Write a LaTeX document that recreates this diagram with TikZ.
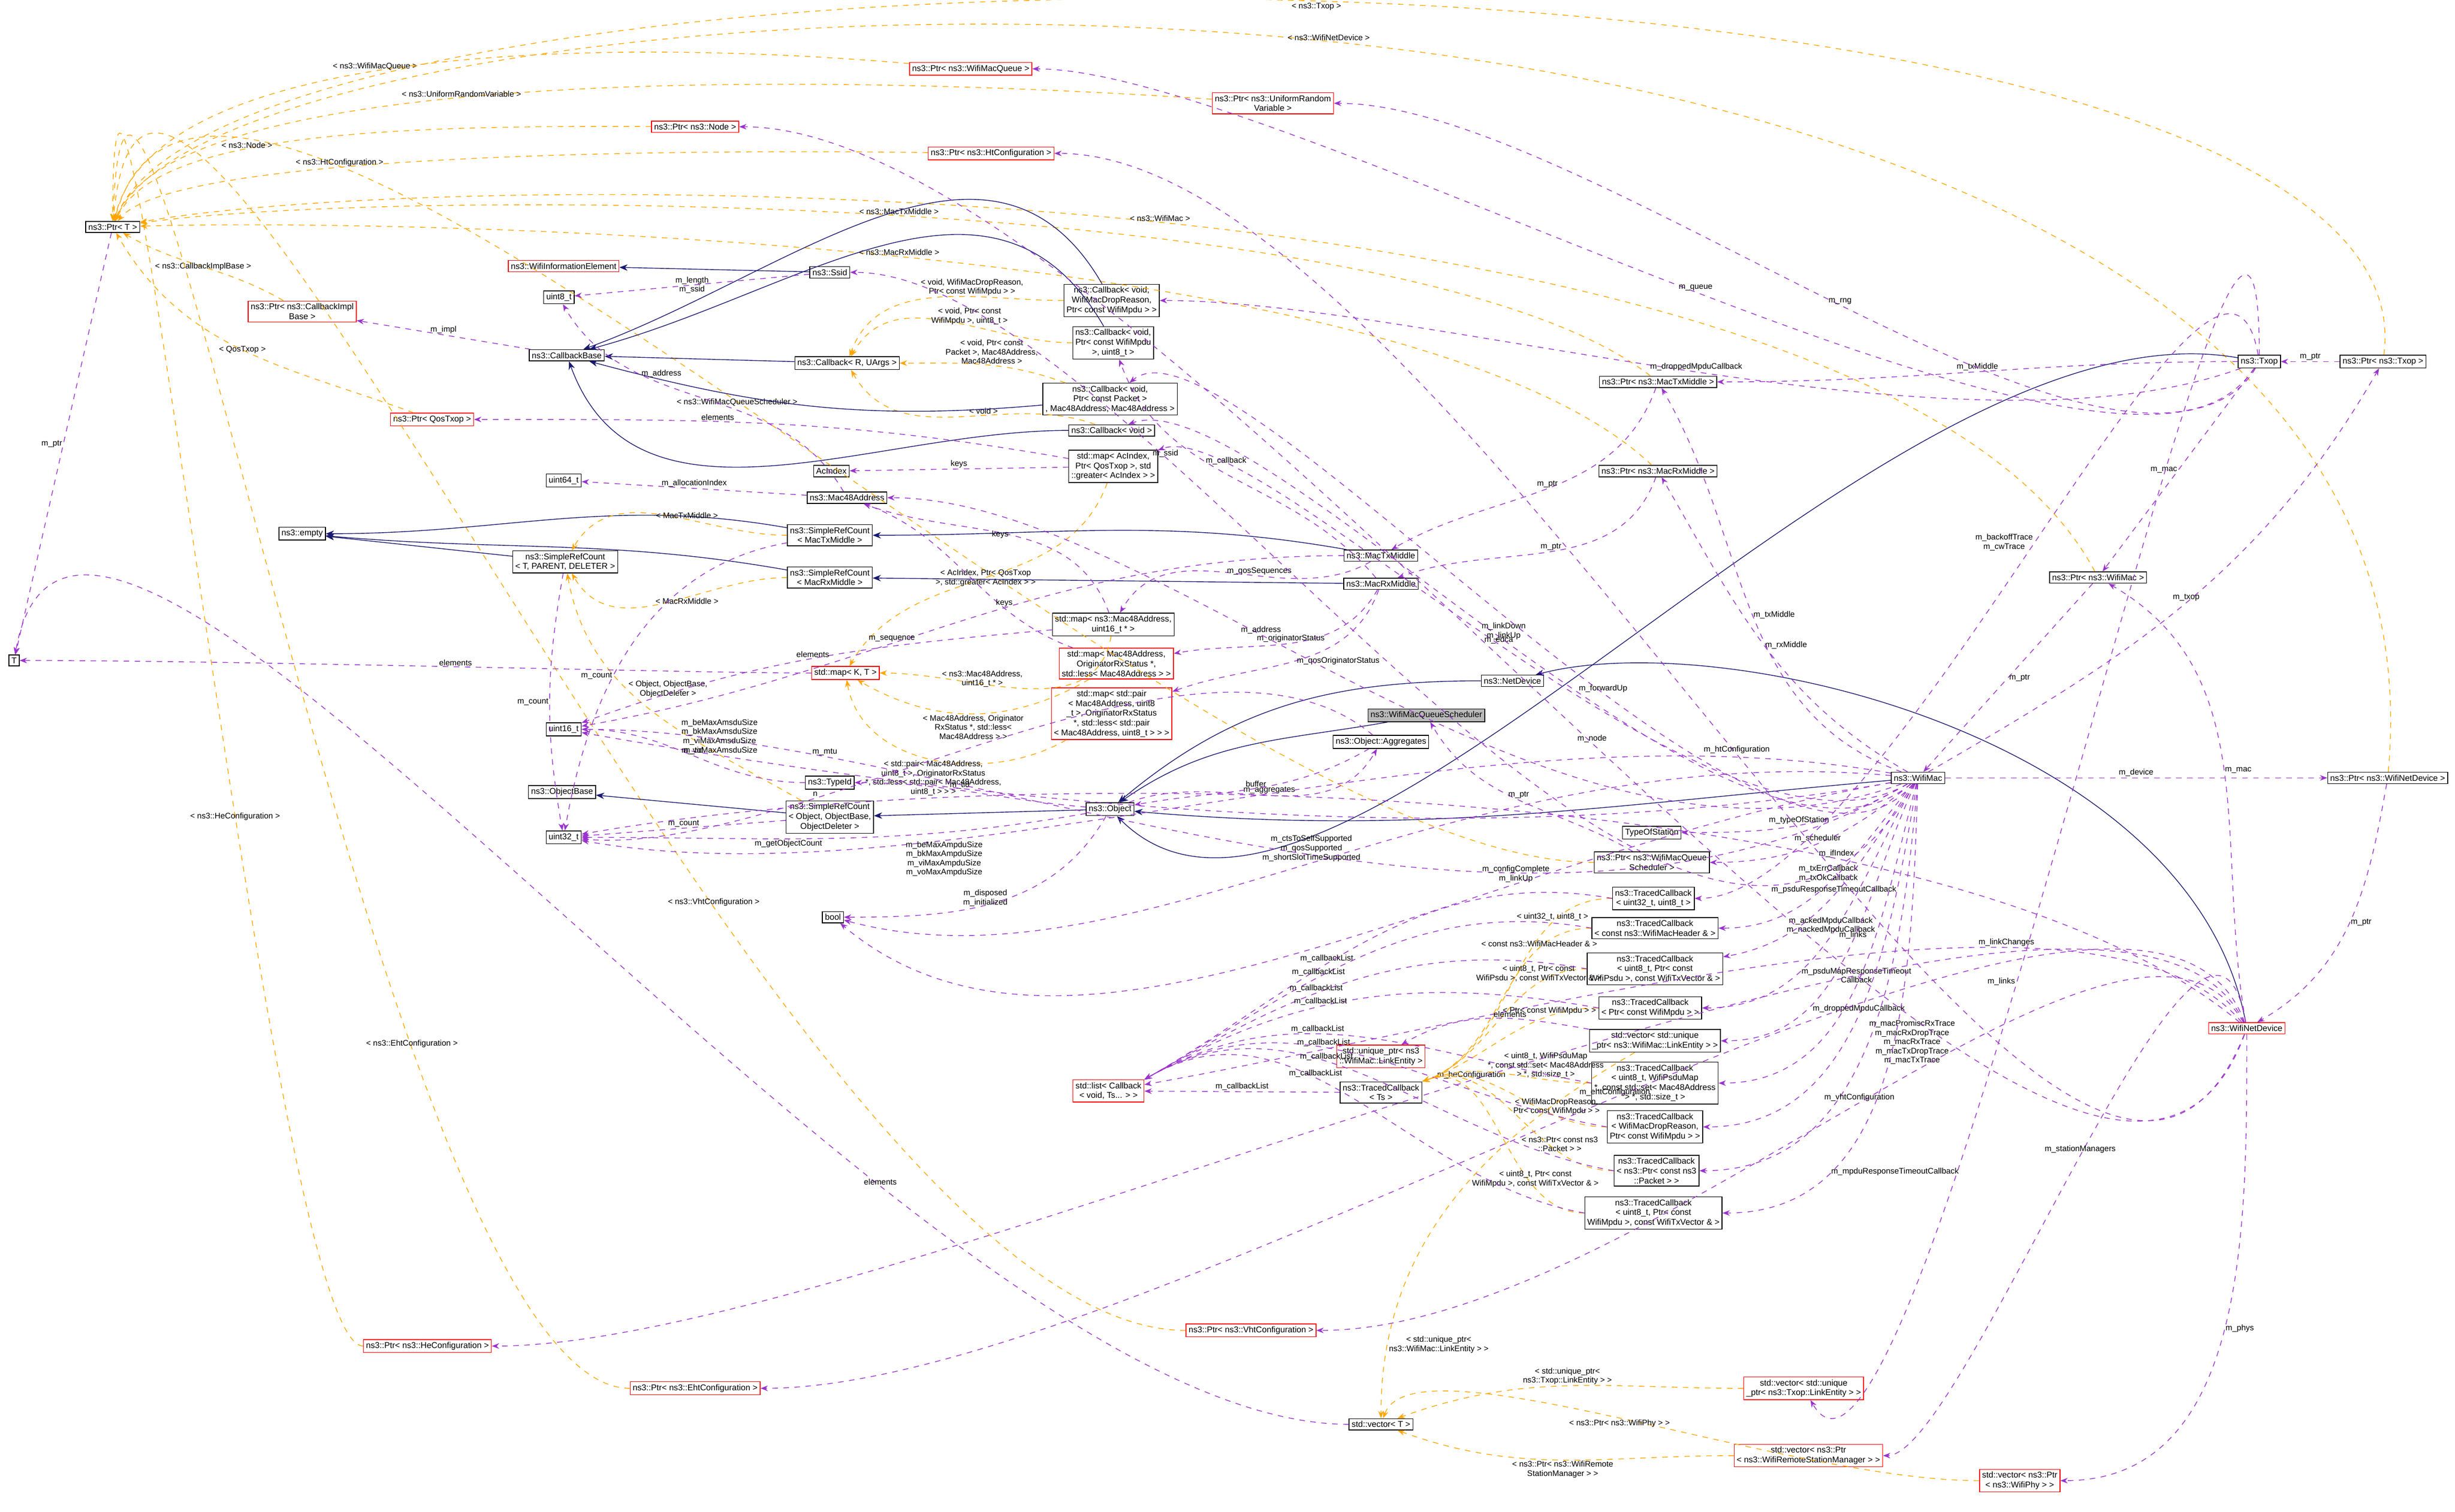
\documentclass[tikz,border=0pt]{standalone}
\usepackage{fontspec}
\setmainfont{Liberation Sans}
\usetikzlibrary{arrows.meta}
\definecolor{pur}{HTML}{9A32CD}
\definecolor{org}{HTML}{FFA500}
\definecolor{nav}{HTML}{191970}
\tikzset{
 box/.style={draw=black,fill=white,inner sep=1.4pt,align=center,font=\fontsize{4.6}{5.3}\selectfont},
 rbox/.style={box,draw=red},
 gbox/.style={box,fill=gray!55},
 lbl/.style={font=\fontsize{4.4}{5}\selectfont,align=center,inner sep=0.5pt,fill=none},
 use/.style={draw=pur,dashed,-{Stealth[length=4pt,width=3pt]}},
 tpl/.style={draw=org,dashed,-{Stealth[length=4pt,width=3pt]}},
 inh/.style={draw=nav,-{Stealth[length=4.5pt,width=3.5pt,open,fill=nav]}},
 mid/.style={distance=120},
}
\begin{document}
\begin{tikzpicture}[x=0.3mm,y=-0.3mm]
\useasboundingbox (0,0) rectangle (1568,966);
% nodes
\node[box] (PT) at (72,145) {ns3::Ptr\textless{} T \textgreater};
\node[box] (T) at (9,422) {T};
\node[rbox] (PWMQ) at (620,44) {ns3::Ptr\textless{} ns3::WifiMacQueue \textgreater};
\node[rbox] (PURV) at (813,66) {ns3::Ptr\textless{} ns3::UniformRandom\\Variable \textgreater};
\node[rbox] (PNode) at (444,81) {ns3::Ptr\textless{} ns3::Node \textgreater};
\node[rbox] (PHt) at (633,98) {ns3::Ptr\textless{} ns3::HtConfiguration \textgreater};
\node[rbox] (WIE) at (360,170) {ns3::WifiInformationElement};
\node[box] (Ssid) at (530,174) {ns3::Ssid};
\node[box] (u8) at (357,190) {uint8\_t};
\node[rbox] (PCIB) at (193,199) {ns3::Ptr\textless{} ns3::CallbackImpl\\Base \textgreater};
\node[box] (CB) at (362,227) {ns3::CallbackBase};
\node[box] (CbDrop) at (710,192) {ns3::Callback\textless{} void,\\WifiMacDropReason,\\Ptr\textless{} const WifiMpdu \textgreater{} \textgreater};
\node[box] (CbMpdu) at (711,219) {ns3::Callback\textless{} void,\\Ptr\textless{} const WifiMpdu\\\textgreater, uint8\_t \textgreater};
\node[box] (CbRU) at (541,232) {ns3::Callback\textless{} R, UArgs \textgreater};
\node[box] (CbPkt) at (709,255) {ns3::Callback\textless{} void,\\Ptr\textless{} const Packet \textgreater\\, Mac48Address, Mac48Address \textgreater};
\node[box] (CbVoid) at (710,275) {ns3::Callback\textless{} void \textgreater};
\node[rbox] (PQos) at (276,268) {ns3::Ptr\textless{} QosTxop \textgreater};
\node[box] (AcI) at (531,301) {AcIndex};
\node[box] (MapAc) at (711,298) {std::map\textless{} AcIndex,\\Ptr\textless{} QosTxop \textgreater, std\\::greater\textless{} AcIndex \textgreater{} \textgreater};
\node[box] (u64) at (360,307) {uint64\_t};
\node[box] (Mac48) at (541,318) {ns3::Mac48Address};
\node[box] (empty) at (193,341) {ns3::empty};
\node[box] (SRCTx) at (530,342) {ns3::SimpleRefCount\\\textless{} MacTxMiddle \textgreater};
\node[box] (SRCT) at (361,359) {ns3::SimpleRefCount\\\textless{} T, PARENT, DELETER \textgreater};
\node[box] (SRCRx) at (530,369) {ns3::SimpleRefCount\\\textless{} MacRxMiddle \textgreater};
\node[box] (MTx) at (882,355) {ns3::MacTxMiddle};
\node[box] (MRx) at (882,373) {ns3::MacRxMiddle};
\node[box] (MapSeq) at (711,399) {std::map\textless{} ns3::Mac48Address,\\uint16\_t * \textgreater};
\node[rbox] (MapKT) at (540,430) {std::map\textless{} K, T \textgreater};
\node[rbox] (MapOrig) at (713,424) {std::map\textless{} Mac48Address,\\OriginatorRxStatus *,\\std::less\textless{} Mac48Address \textgreater{} \textgreater};
\node[rbox] (MapPair) at (710,456) {std::map\textless{} std::pair\\\textless{} Mac48Address, uint8\\\_t \textgreater, OriginatorRxStatus\\*, std::less\textless{} std::pair\\\textless{} Mac48Address, uint8\_t \textgreater{} \textgreater{} \textgreater};
\node[box] (ND) at (966,435) {ns3::NetDevice};
\node[gbox] (WMQS) at (911,457) {ns3::WifiMacQueueScheduler};
\node[box] (Agg) at (882,474) {ns3::Object::Aggregates};
\node[box] (u16) at (360,466) {uint16\_t};
\node[box] (TId) at (530,500) {ns3::TypeId};
\node[box] (OB) at (359,506) {ns3::ObjectBase};
\node[box] (SRCO) at (530,522) {ns3::SimpleRefCount\\\textless{} Object, ObjectBase,\\ObjectDeleter \textgreater};
\node[box] (Obj) at (709,517) {ns3::Object};
\node[box] (u32) at (360,535) {uint32\_t};
\node[box] (TOS) at (1055,532) {TypeOfStation};
\node[box] (PWMQS) at (1055,551) {ns3::Ptr\textless{} ns3::WifiMacQueue\\Scheduler \textgreater};
\node[box] (TC1) at (1056,574) {ns3::TracedCallback\\\textless{} uint32\_t, uint8\_t \textgreater};
\node[box] (bool) at (532,586) {bool};
\node[box] (TC2) at (1057,593) {ns3::TracedCallback\\\textless{} const ns3::WifiMacHeader \& \textgreater};
\node[box] (TC3) at (1057,619) {ns3::TracedCallback\\\textless{} uint8\_t, Ptr\textless{} const\\WifiPsdu \textgreater, const WifiTxVector \& \textgreater};
\node[box] (TC4) at (1054,644) {ns3::TracedCallback\\\textless{} Ptr\textless{} const WifiMpdu \textgreater{} \textgreater};
\node[box] (VLE) at (1057,665) {std::vector\textless{} std::unique\\\_ptr\textless{} ns3::WifiMac::LinkEntity \textgreater{} \textgreater};
\node[rbox] (ULE) at (882,675) {std::unique\_ptr\textless{} ns3\\::WifiMac::LinkEntity \textgreater};
\node[box] (TC5) at (1057,692) {ns3::TracedCallback\\\textless{} uint8\_t, WifiPsduMap\\*, const std::set\textless{} Mac48Address\\\textgreater{} *, std::size\_t \textgreater};
\node[rbox] (List) at (708,697) {std::list\textless{} Callback\\\textless{} void, Ts... \textgreater{} \textgreater};
\node[box] (TCTs) at (882,698) {ns3::TracedCallback\\\textless{} Ts \textgreater};
\node[box] (TC6) at (1057,720) {ns3::TracedCallback\\\textless{} WifiMacDropReason,\\Ptr\textless{} const WifiMpdu \textgreater{} \textgreater};
\node[box] (TC7) at (1058,748) {ns3::TracedCallback\\\textless{} ns3::Ptr\textless{} const ns3\\::Packet \textgreater{} \textgreater};
\node[box] (TC8) at (1056,775) {ns3::TracedCallback\\\textless{} uint8\_t, Ptr\textless{} const\\WifiMpdu \textgreater, const WifiTxVector \& \textgreater};
\node[box] (WM) at (1225,497) {ns3::WifiMac};
\node[box] (Txop) at (1443,231) {ns3::Txop};
\node[box] (PTxop) at (1522,231) {ns3::Ptr\textless{} ns3::Txop \textgreater};
\node[box] (PMTx) at (1059,244) {ns3::Ptr\textless{} ns3::MacTxMiddle \textgreater};
\node[box] (PMRx) at (1059,301) {ns3::Ptr\textless{} ns3::MacRxMiddle \textgreater};
\node[box] (PWM) at (1340,369) {ns3::Ptr\textless{} ns3::WifiMac \textgreater};
\node[box] (PWND) at (1525,497) {ns3::Ptr\textless{} ns3::WifiNetDevice \textgreater};
\node[rbox] (WND) at (1435,657) {ns3::WifiNetDevice};
\node[rbox] (PVht) at (799,850) {ns3::Ptr\textless{} ns3::VhtConfiguration \textgreater};
\node[rbox] (PHe) at (273,860) {ns3::Ptr\textless{} ns3::HeConfiguration \textgreater};
\node[rbox] (PEht) at (444,887) {ns3::Ptr\textless{} ns3::EhtConfiguration \textgreater};
\node[rbox] (VTLE) at (1152,887) {std::vector\textless{} std::unique\\\_ptr\textless{} ns3::Txop::LinkEntity \textgreater{} \textgreater};
\node[box] (VT) at (882,910) {std::vector\textless{} T \textgreater};
\node[rbox] (VRSM) at (1155,930) {std::vector\textless{} ns3::Ptr\\\textless{} ns3::WifiRemoteStationManager \textgreater{} \textgreater};
\node[rbox] (VPhy) at (1290,946) {std::vector\textless{} ns3::Ptr\\\textless{} ns3::WifiPhy \textgreater{} \textgreater};
% template edges to Ptr<T>
\draw[tpl] (PWMQ) .. controls (400,25) and (100,25) .. node[lbl,pos=0.55,above]{\textless{} ns3::WifiMacQueue \textgreater} (PT);
\draw[tpl] (PURV) .. controls (500,45) and (110,45) .. node[lbl,pos=0.55,above]{\textless{} ns3::UniformRandomVariable \textgreater} (PT);
\draw[tpl] (PNode) .. controls (250,80) and (100,85) .. node[lbl,pos=0.6,above]{\textless{} ns3::Node \textgreater} (PT);
\draw[tpl] (PHt) .. controls (400,95) and (110,100) .. node[lbl,pos=0.6,above]{\textless{} ns3::HtConfiguration \textgreater} (PT);
\draw[tpl] (PCIB) to[out=150,in=-30] node[lbl,pos=0.5]{\textless{} ns3::CallbackImplBase \textgreater} (PT);
\draw[tpl] (PQos) to[out=160,in=-60] node[lbl,pos=0.5]{\textless{} QosTxop \textgreater} (PT);
\draw[tpl] (PMTx) .. controls (900,120) and (250,120) .. node[lbl,pos=0.5,above]{\textless{} ns3::MacTxMiddle \textgreater} (PT);
\draw[tpl] (PMRx) .. controls (900,150) and (250,140) .. node[lbl,pos=0.5,above]{\textless{} ns3::MacRxMiddle \textgreater} (PT);
\draw[tpl] (PWM) .. controls (1200,105) and (300,105) .. node[lbl,pos=0.5,above]{\textless{} ns3::WifiMac \textgreater} (PT);
\draw[tpl] (PTxop) .. controls (1560,-60) and (150,-60) .. node[lbl,pos=0.5,below]{\textless{} ns3::Txop \textgreater} (PT);
\draw[tpl] (PWND) .. controls (1580,-100) and (150,-40) .. node[lbl,pos=0.5,above]{\textless{} ns3::WifiNetDevice \textgreater} (PT);
\draw[tpl] (PWMQS) .. controls +(180:300) and +(-75:250) .. node[lbl,pos=0.5]{\textless{} ns3::WifiMacQueueScheduler \textgreater} (PT);
\draw[tpl] (PVht) .. controls +(180:300) and +(-85:300) .. node[lbl,pos=0.35,above]{\textless{} ns3::VhtConfiguration \textgreater} (PT);
\draw[tpl] (PHe) .. controls +(180:100) and +(-90:300) .. node[lbl,pos=0.4]{\textless{} ns3::HeConfiguration \textgreater} (PT);
\draw[tpl] (PEht) .. controls +(180:200) and +(-88:300) .. node[lbl,pos=0.3,above]{\textless{} ns3::EhtConfiguration \textgreater} (PT);
\draw[use] (PT) -- node[lbl,left]{m\_ptr} (T);
% callback templates
\draw[tpl] (CbDrop) to[out=180,in=70] node[lbl,pos=0.35,above]{\textless{} void, WifiMacDropReason,\\Ptr\textless{} const WifiMpdu \textgreater{} \textgreater} (CbRU);
\draw[tpl] (CbMpdu) to[out=180,in=60] node[lbl,pos=0.4,above]{\textless{} void, Ptr\textless{} const\\WifiMpdu \textgreater, uint8\_t \textgreater} (CbRU);
\draw[tpl] (CbPkt) to[out=160,in=0] node[lbl,pos=0.45,above]{\textless{} void, Ptr\textless{} const\\Packet \textgreater, Mac48Address,\\Mac48Address \textgreater} (CbRU);
\draw[tpl] (CbVoid) to[out=160,in=-60] node[lbl,pos=0.4,above]{\textless{} void \textgreater} (CbRU);
\draw[inh,mid] (CbDrop) to[out=120,in=20] (CB);
\draw[inh,mid] (CbMpdu) to[out=120,in=15] (CB);
\draw[inh] (CbRU) -- (CB);
\draw[inh] (CbPkt) to[out=185,in=-15] (CB);
\draw[inh] (CbVoid) to[out=180,in=-70] (CB);
\draw[use] (CB) -- node[lbl,above]{m\_impl} (PCIB);
\draw[inh] (Ssid) -- (WIE);
\draw[use] (Ssid) -- node[lbl]{m\_length\\m\_ssid} (u8);
\draw[use] (Mac48) to[out=120,in=-60] node[lbl,pos=0.7,right]{m\_address} (u8);
\draw[use] (Mac48) -- node[lbl,above]{m\_allocationIndex} (u64);
\draw[use] (MapAc) -- node[lbl,above]{keys} (AcI);
\draw[use] (MapAc) to[out=170,in=0] node[lbl,pos=0.6,above]{elements} (PQos);
\draw[tpl] (MapAc) to[out=-110,in=60] node[lbl,pos=0.5]{\textless{} AcIndex, Ptr\textless{} QosTxop\\\textgreater, std::greater\textless{} AcIndex \textgreater{} \textgreater} (MapKT);
% refcount
\draw[inh] (SRCTx) to[out=170,in=0] (empty);
\draw[inh] (SRCRx) to[out=170,in=-5] (empty);
\draw[inh] (SRCT) -- (empty);
\draw[tpl] (SRCTx) to[out=180,in=60] node[lbl,pos=0.4,above]{\textless{} MacTxMiddle \textgreater} (SRCT);
\draw[tpl] (SRCRx) to[out=180,in=-60] node[lbl,pos=0.4,below]{\textless{} MacRxMiddle \textgreater} (SRCT);
\draw[tpl] (SRCO) to[out=150,in=-80] node[lbl,pos=0.6,right]{\textless{} Object, ObjectBase,\\ObjectDeleter \textgreater} (SRCT);
\draw[inh] (MTx) to[out=170,in=0] (SRCTx);
\draw[inh] (MRx) -- (SRCRx);
\draw[use] (SRCT) to[out=-100,in=100] node[lbl,pos=0.5,left]{m\_count} (u32);
\draw[use] (SRCTx) to[out=190,in=80] node[lbl,pos=0.6,left]{m\_count} (u32);
\draw[use] (SRCO) -- node[lbl,above]{m\_count} (u32);
% maps
\draw[use] (MapSeq) to[out=110,in=-20] node[lbl,pos=0.5,left]{keys} (Mac48);
\draw[use] (MapSeq) to[out=185,in=20] node[lbl,pos=0.5,above]{elements} (u16);
\draw[tpl] (MapSeq) to[out=-100,in=0] node[lbl,pos=0.5,above left]{\textless{} ns3::Mac48Address,\\uint16\_t * \textgreater} (MapKT);
\draw[use] (MapOrig) to[out=160,in=-20] node[lbl,pos=0.3,above]{keys} (Mac48);
\draw[tpl] (MapOrig) to[out=-150,in=-30] node[lbl,pos=0.5,below]{\textless{} Mac48Address, Originator\\RxStatus *, std::less\textless{}\\Mac48Address \textgreater{} \textgreater} (MapKT);
\draw[tpl] (MapPair) to[out=-150,in=-80] node[lbl,pos=0.5,below]{\textless{} std::pair\textless{} Mac48Address,\\uint8\_t \textgreater, OriginatorRxStatus\\*, std::less\textless{} std::pair\textless{} Mac48Address,\\uint8\_t \textgreater{} \textgreater{} \textgreater} (MapKT);
\draw[use] (MapKT) .. controls +(180:100) and +(0:150) .. node[lbl,pos=0.5,above]{elements} (T);
\draw[use] (MTx) to[out=-150,in=60] node[lbl,pos=0.4,above]{m\_qosSequences} (MapSeq);
\draw[use] (MTx) to[out=180,in=10] node[lbl,pos=0.6,above]{m\_sequence} (u16);
\draw[use] (MRx) to[out=-120,in=10] node[lbl,pos=0.5,above]{m\_originatorStatus} (MapOrig);
\draw[use] (MRx) to[out=-110,in=20] node[lbl,pos=0.5,right]{m\_qosOriginatorStatus} (MapPair);
\draw[use] (MRx) to[out=130,in=-70] node[lbl,pos=0.6,right]{m\_callback} (CbMpdu);
\draw[use] (PMTx) to[out=-110,in=30] node[lbl,pos=0.5,above]{m\_ptr} (MTx);
\draw[use] (PMRx) to[out=-110,in=20] node[lbl,pos=0.5,above]{m\_ptr} (MRx);
% object
\draw[inh] (Obj) -- (SRCO);
\draw[inh] (SRCO) -- (OB);
\draw[inh] (ND) to[out=180,in=40] (Obj);
\draw[inh] (WMQS) to[out=190,in=35] (Obj);
\draw[inh] (WM) .. controls +(175:200) and +(5:200) .. (Obj);
\draw[inh] (Txop) .. controls +(190:250) and +(45:200) .. (Obj);
\draw[inh] (WND) .. controls (1400,470) and (1100,400) .. (ND);
\draw[use] (Obj) to[out=20,in=-120] node[lbl,pos=0.5,above]{m\_aggregates} (Agg);
\draw[use] (Agg) to[out=-150,in=10] node[lbl,pos=0.5,above]{buffer} (Obj);
\draw[use] (Agg) .. controls +(-140:150) and +(5:150) .. node[lbl,pos=0.7,above]{n} (u32);
\draw[use] (Obj) to[out=175,in=0] node[lbl,pos=0.55,above]{m\_tid} (TId);
\draw[use] (TId) to[out=180,in=0] node[lbl,pos=0.5,above]{m\_tid} (u16);
\draw[use] (Obj) to[out=-120,in=0] node[lbl,pos=0.45,left]{m\_disposed\\m\_initialized} (bool);
\draw[use] (Obj) to[out=-170,in=0] node[lbl,pos=0.6,below]{m\_getObjectCount} (u32);
% WifiMac uses
\draw[use] (WM) .. controls +(120:300) and +(0:200) .. node[lbl,pos=0.7,above]{m\_ssid} (Ssid);
\draw[use] (WM) .. controls +(160:250) and +(0:200) .. node[lbl,pos=0.6,above]{m\_address} (Mac48);
\draw[use] (WM) .. controls +(150:150) and +(-20:100) .. node[lbl,pos=0.5,above]{m\_edca} (MapAc);
\draw[use] (WM) .. controls +(140:150) and +(-20:100) .. node[lbl,pos=0.5,above]{m\_linkDown\\m\_linkUp} (CbVoid);
\draw[use] (WM) .. controls +(130:150) and +(-40:100) .. node[lbl,pos=0.4,above]{m\_forwardUp} (CbPkt);
\draw[use] (WM) .. controls +(150:300) and +(0:250) .. node[lbl,pos=0.8,above]{m\_mtu} (u16);
\draw[use] (WM) .. controls +(170:300) and +(10:250) .. node[lbl,pos=0.88,above]{m\_beMaxAmsduSize\\m\_bkMaxAmsduSize\\m\_viMaxAmsduSize\\m\_voMaxAmsduSize} (u16);
\draw[use] (WM) .. controls +(-170:300) and +(10:250) .. node[lbl,pos=0.7,below]{m\_beMaxAmpduSize\\m\_bkMaxAmpduSize\\m\_viMaxAmpduSize\\m\_voMaxAmpduSize} (u32);
\draw[use] (WM) .. controls +(185:300) and +(15:200) .. node[lbl,pos=0.5,above]{m\_ctsToSelfSupported\\m\_qosSupported\\m\_shortSlotTimeSupported} (bool);
\draw[use] (WM) .. controls +(170:300) and +(40:200) .. node[lbl,pos=0.3,above]{m\_configComplete\\m\_linkUp} (bool);
\draw[use] (WM) to[out=-150,in=0] node[lbl,pos=0.5,above]{m\_typeOfStation} (TOS);
\draw[use] (WM) to[out=-140,in=0] node[lbl,pos=0.5,above]{m\_scheduler} (PWMQS);
\draw[use] (PWMQS) to[out=150,in=-60] node[lbl,pos=0.5,above]{m\_ptr} (WMQS);
\draw[use] (WM) to[out=160,in=-60] node[lbl,pos=0.5,right]{m\_txMiddle} (PMTx);
\draw[use] (WM) to[out=150,in=-60] node[lbl,pos=0.5,right]{m\_rxMiddle} (PMRx);
\draw[use] (WM) to[out=-130,in=0] node[lbl,pos=0.5,above]{m\_txErrCallback\\m\_txOkCallback} (TC2);
\draw[use] (WM) to[out=-125,in=10] node[lbl,pos=0.5,above]{m\_psduResponseTimeoutCallback} (TC3);
\draw[use] (WM) to[out=-120,in=0] node[lbl,pos=0.5,above]{m\_ackedMpduCallback\\m\_nackedMpduCallback} (TC4);
\draw[use] (WM) to[out=-115,in=0] node[lbl,pos=0.45,above]{m\_links} (VLE);
\draw[use] (WM) to[out=-105,in=0] node[lbl,pos=0.5,above]{m\_psduMapResponseTimeout\\Callback} (TC5);
\draw[use] (WM) to[out=-100,in=0] node[lbl,pos=0.5,above]{m\_droppedMpduCallback} (TC6);
\draw[use] (WM) to[out=-95,in=0] node[lbl,pos=0.5,right]{m\_macPromiscRxTrace\\m\_macRxDropTrace\\m\_macRxTrace\\m\_macTxDropTrace\\m\_macTxTrace} (TC7);
\draw[use] (WM) to[out=-92,in=0] node[lbl,pos=0.75,right]{m\_mpduResponseTimeoutCallback} (TC8);
\draw[use] (WM) to[out=0,in=180] node[lbl,pos=0.5,above]{m\_device} (PWND);
\draw[use] (WM) to[out=30,in=-120] node[lbl,pos=0.5,above]{m\_txop} (PTxop);
\draw[use] (PWM) -- node[lbl,pos=0.5,right]{m\_ptr} (WM);
\draw[use] (Txop) -- node[lbl,pos=0.5,left]{m\_mac} (PWM);
\draw[use] (WND) to[out=100,in=-30] node[lbl,pos=0.5,right]{m\_mac} (PWM);
\draw[use] (PWND) to[out=-100,in=30] node[lbl,pos=0.5,right]{m\_ptr} (WND);
\draw[use] (PTxop) -- node[lbl,above]{m\_ptr} (Txop);
\draw[use] (Txop) to[out=180,in=0] node[lbl,pos=0.5,above]{m\_txMiddle} (PMTx);
\draw[use] (Txop) .. controls +(120:150) and +(0:200) .. node[lbl,pos=0.5,above]{m\_queue} (PWMQ);
\draw[use] (Txop) .. controls +(125:150) and +(0:200) .. node[lbl,pos=0.5,above]{m\_rng} (PURV);
\draw[use] (Txop) .. controls +(160:200) and +(0:200) .. node[lbl,pos=0.5,above]{m\_droppedMpduCallback} (CbDrop);
\draw[use] (Txop) .. controls +(-100:150) and +(0:150) .. node[lbl,pos=0.5,left]{m\_backoffTrace\\m\_cwTrace} (TC1);
\draw[use] (Txop) .. controls +(-90:300) and +(60:150) .. node[lbl,pos=0.6,left]{m\_links} (VTLE);
\draw[use] (WND) .. controls +(110:300) and +(0:300) .. node[lbl,pos=0.5,above]{m\_node} (PNode);
\draw[use] (WND) .. controls +(112:300) and +(0:300) .. node[lbl,pos=0.5,above]{m\_htConfiguration} (PHt);
\draw[use] (WND) .. controls +(-120:150) and +(0:250) .. node[lbl,pos=0.5,above]{m\_vhtConfiguration} (PVht);
\draw[use] (WND) .. controls +(-115:200) and +(0:300) .. node[lbl,pos=0.5,above]{m\_heConfiguration} (PHe);
\draw[use] (WND) .. controls +(-110:200) and +(0:300) .. node[lbl,pos=0.5,above]{m\_ehtConfiguration} (PEht);
\draw[use] (WND) .. controls +(-100:150) and +(0:100) .. node[lbl,pos=0.5,above]{m\_stationManagers} (VRSM);
\draw[use] (WND) to[out=-90,in=0] node[lbl,pos=0.5,right]{m\_phys} (VPhy);
\draw[use] (WND) .. controls +(-140:250) and +(-10:300) .. node[lbl,pos=0.3,above]{m\_ifIndex} (u32);
\draw[use] (WND) .. controls +(-130:150) and +(-10:250) .. node[lbl,pos=0.3,above]{m\_linkChanges} (List);
% traced callbacks
\foreach \n/\lab in {TC1/{\textless{} uint32\_t, uint8\_t \textgreater},TC2/{\textless{} const ns3::WifiMacHeader \& \textgreater},TC3/{\textless{} uint8\_t, Ptr\textless{} const\\WifiPsdu \textgreater, const WifiTxVector \& \textgreater},TC4/{\textless{} Ptr\textless{} const WifiMpdu \textgreater{} \textgreater},TC5/{\textless{} uint8\_t, WifiPsduMap\\*, const std::set\textless{} Mac48Address\\\textgreater{} *, std::size\_t \textgreater},TC6/{\textless{} WifiMacDropReason,\\Ptr\textless{} const WifiMpdu \textgreater{} \textgreater},TC7/{\textless{} ns3::Ptr\textless{} const ns3\\::Packet \textgreater{} \textgreater},TC8/{\textless{} uint8\_t, Ptr\textless{} const\\WifiMpdu \textgreater, const WifiTxVector \& \textgreater}}
 {\draw[tpl] (\n.west) to[out=180,in=20] node[lbl,pos=0.25,above]{\lab} (TCTs.north east);
  \draw[use] (\n.west) to[out=170,in=30] node[lbl,pos=0.6,above]{m\_callbackList} (List.north east);}
\draw[use] (TCTs) -- node[lbl,above]{m\_callbackList} (List);
\draw[use] (VLE) to[out=170,in=30] node[lbl,pos=0.4,above]{elements} (ULE);
\draw[tpl] (VLE) to[out=-150,in=90] node[lbl,pos=0.85,right]{\textless{} std::unique\_ptr\textless{}\\ns3::WifiMac::LinkEntity \textgreater{} \textgreater} (VT);
\draw[tpl] (VTLE) to[out=180,in=20] node[lbl,pos=0.5,above]{\textless{} std::unique\_ptr\textless{}\\ns3::Txop::LinkEntity \textgreater{} \textgreater} (VT);
\draw[tpl] (VRSM) to[out=180,in=-20] node[lbl,pos=0.5,below]{\textless{} ns3::Ptr\textless{} ns3::WifiRemote\\StationManager \textgreater{} \textgreater} (VT);
\draw[tpl] (VPhy) .. controls +(180:150) and +(-70:60) .. node[lbl,pos=0.5,below]{\textless{} ns3::Ptr\textless{} ns3::WifiPhy \textgreater{} \textgreater} (VT);
\draw[use] (VT) .. controls +(180:300) and +(-80:250) .. node[lbl,pos=0.3,above]{elements} (T);
\end{tikzpicture}
\end{document}
